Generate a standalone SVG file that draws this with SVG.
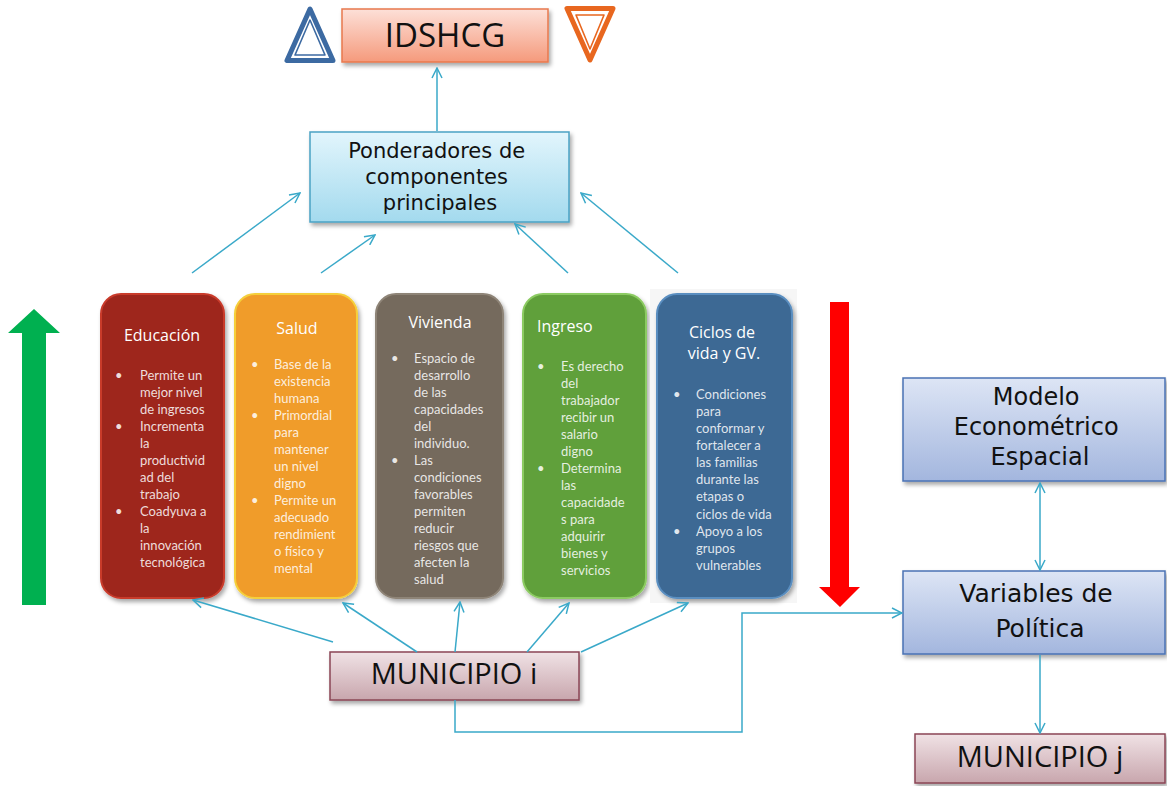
<svg xmlns="http://www.w3.org/2000/svg" width="1167" height="786" viewBox="0 0 1167 786">
  <defs>
    <style>
      .lbl { font-family: "Open Sans", "DejaVu Sans", sans-serif; fill: #111; text-anchor: middle; }
      .wide { font-family: "DejaVu Sans", "Open Sans", sans-serif; fill: #111; text-anchor: middle; }
      .ttl { font-family: "Open Sans", "DejaVu Sans", sans-serif; fill: #fff; font-size: 16px; }
      .bul { font-family: "Lato", "Open Sans", sans-serif; font-size: 13px; fill: #fff; fill-opacity: 0.85; }
      .conn { fill: none; stroke: #3aa9c9; stroke-width: 1.5; }
    </style>
    <linearGradient id="gSalmon" x1="0" y1="0" x2="0" y2="1">
      <stop offset="0" stop-color="#fde0d8"/>
      <stop offset="1" stop-color="#f59a7c"/>
    </linearGradient>
    <linearGradient id="gCyan" x1="0" y1="0" x2="0" y2="1">
      <stop offset="0" stop-color="#e2f5fc"/>
      <stop offset="1" stop-color="#a3daee"/>
    </linearGradient>
    <linearGradient id="gMauve" x1="0" y1="0" x2="0" y2="1">
      <stop offset="0" stop-color="#f0e2e5"/>
      <stop offset="1" stop-color="#c8a6ad"/>
    </linearGradient>
    <linearGradient id="gSteel" x1="0" y1="0" x2="0" y2="1">
      <stop offset="0" stop-color="#dde5f5"/>
      <stop offset="1" stop-color="#a3b6de"/>
    </linearGradient>
    <filter id="shadow" x="-10%" y="-10%" width="125%" height="130%">
      <feDropShadow dx="2" dy="3" stdDeviation="2" flood-color="#000" flood-opacity="0.35"/>
    </filter>
    <marker id="open" viewBox="0 0 12 12" refX="11" refY="6" markerWidth="12" markerHeight="12" markerUnits="userSpaceOnUse" orient="auto-start-reverse">
      <path d="M1,1 L11,6 L1,11" fill="none" stroke="#3aa9c9" stroke-width="1.5"/>
    </marker>
  </defs>

  <rect width="1167" height="786" fill="#fff"/>

  <!-- trend arrows -->
  <g id="arrow-up">
    <polygon points="34,309 60,333 46,333 46,605 22,605 22,333 8,333" fill="#00b050"/>
  </g>
  <g id="arrow-down">
    <polygon points="830,302 849,302 849,587 860,587 840,607 819,587 830,587" fill="#ff0000"/>
  </g>

  <!-- index header with signal triangles -->
  <g id="tri-up">
    <polygon points="310,9 287,60.5 333,60.5" fill="#fff" stroke="#3c6aa2" stroke-width="5" stroke-linejoin="round"/>
    <polygon points="310,20 295,55 325,55" fill="none" stroke="#3c6aa2" stroke-width="1.6" stroke-linejoin="round"/>
  </g>
  <g id="tri-down">
    <polygon points="567,8.5 613,8.5 590,60" fill="#fff" stroke="#e8671f" stroke-width="5" stroke-linejoin="round"/>
    <polygon points="576,15 604,15 590,49" fill="none" stroke="#e8671f" stroke-width="1.6" stroke-linejoin="round"/>
  </g>
  <g id="idshcg">
    <rect x="342" y="9" width="206" height="53" fill="url(#gSalmon)" stroke="#e8784e" stroke-width="1.5" filter="url(#shadow)"/>
    <text class="lbl" x="445" y="47" font-size="33">IDSHCG</text>
  </g>

  <g id="ponderadores">
    <rect x="310" y="132" width="259" height="90" fill="url(#gCyan)" stroke="#4aa2c4" stroke-width="1.5" filter="url(#shadow)"/>
    <text class="wide" font-size="21">
      <tspan x="440" y="158">Ponderadores de</tspan>
      <tspan x="440" y="184">componentes</tspan>
      <tspan x="440" y="210">principales</tspan>
    </text>
  </g>

  <!-- component cards -->
  <g id="educacion">
    <rect x="101" y="294" width="123" height="304" rx="20" fill="#9e281e" stroke="#c93a2c" stroke-width="2" filter="url(#shadow)"/>
    <text class="ttl" x="162" y="341" text-anchor="middle">Educación</text>
    <text class="bul">
      <tspan x="115" y="380">•</tspan><tspan x="140" y="380">Permite un</tspan>
      <tspan x="140" y="397">mejor nivel</tspan>
      <tspan x="140" y="414">de ingresos</tspan>
      <tspan x="115" y="431">•</tspan><tspan x="140" y="431">Incrementa</tspan>
      <tspan x="140" y="448">la</tspan>
      <tspan x="140" y="465">productivid</tspan>
      <tspan x="140" y="482">ad del</tspan>
      <tspan x="140" y="499">trabajo</tspan>
      <tspan x="115" y="516">•</tspan><tspan x="140" y="516">Coadyuva a</tspan>
      <tspan x="140" y="533">la</tspan>
      <tspan x="140" y="550">innovación</tspan>
      <tspan x="140" y="567">tecnológica</tspan>
    </text>
  </g>

  <g id="salud">
    <rect x="235" y="294" width="122" height="304" rx="20" fill="#f09c2c" stroke="#f5cf3a" stroke-width="2" filter="url(#shadow)"/>
    <text class="ttl" x="297" y="334" text-anchor="middle">Salud</text>
    <text class="bul">
      <tspan x="251" y="369">•</tspan><tspan x="274" y="369">Base de la</tspan>
      <tspan x="274" y="386">existencia</tspan>
      <tspan x="274" y="403">humana</tspan>
      <tspan x="251" y="420">•</tspan><tspan x="274" y="420">Primordial</tspan>
      <tspan x="274" y="437">para</tspan>
      <tspan x="274" y="454">mantener</tspan>
      <tspan x="274" y="471">un nivel</tspan>
      <tspan x="274" y="488">digno</tspan>
      <tspan x="251" y="505">•</tspan><tspan x="274" y="505">Permite un</tspan>
      <tspan x="274" y="522">adecuado</tspan>
      <tspan x="274" y="539">rendimient</tspan>
      <tspan x="274" y="556">o físico y</tspan>
      <tspan x="274" y="573">mental</tspan>
    </text>
  </g>

  <g id="vivienda">
    <rect x="376" y="294" width="127" height="304" rx="20" fill="#756a5d" stroke="#8e8477" stroke-width="2" filter="url(#shadow)"/>
    <text class="ttl" x="440" y="328" text-anchor="middle">Vivienda</text>
    <text class="bul">
      <tspan x="391" y="363">•</tspan><tspan x="414" y="363">Espacio de</tspan>
      <tspan x="414" y="380">desarrollo</tspan>
      <tspan x="414" y="397">de las</tspan>
      <tspan x="414" y="414">capacidades</tspan>
      <tspan x="414" y="431">del</tspan>
      <tspan x="414" y="448">individuo.</tspan>
      <tspan x="391" y="465">•</tspan><tspan x="414" y="465">Las</tspan>
      <tspan x="414" y="482">condiciones</tspan>
      <tspan x="414" y="499">favorables</tspan>
      <tspan x="414" y="516">permiten</tspan>
      <tspan x="414" y="533">reducir</tspan>
      <tspan x="414" y="550">riesgos que</tspan>
      <tspan x="414" y="567">afecten la</tspan>
      <tspan x="414" y="584">salud</tspan>
    </text>
  </g>

  <g id="ingreso">
    <rect x="523" y="294" width="123" height="304" rx="20" fill="#61a03b" stroke="#8ccb62" stroke-width="2" filter="url(#shadow)"/>
    <text class="ttl" x="537" y="332">Ingreso</text>
    <text class="bul">
      <tspan x="537" y="371">•</tspan><tspan x="561" y="371">Es derecho</tspan>
      <tspan x="561" y="388">del</tspan>
      <tspan x="561" y="405">trabajador</tspan>
      <tspan x="561" y="422">recibir un</tspan>
      <tspan x="561" y="439">salario</tspan>
      <tspan x="561" y="456">digno</tspan>
      <tspan x="537" y="473">•</tspan><tspan x="561" y="473">Determina</tspan>
      <tspan x="561" y="490">las</tspan>
      <tspan x="561" y="507">capacidade</tspan>
      <tspan x="561" y="524">s para</tspan>
      <tspan x="561" y="541">adquirir</tspan>
      <tspan x="561" y="558">bienes y</tspan>
      <tspan x="561" y="575">servicios</tspan>
    </text>
  </g>

  <g id="ciclos">
    <rect x="650" y="289" width="147" height="314" fill="#f6f6f6"/>
    <rect x="657" y="294" width="135" height="304" rx="20" fill="#3d6994" stroke="#5a8ec0" stroke-width="2" filter="url(#shadow)"/>
    <text class="ttl" font-size="17" text-anchor="middle">
      <tspan x="724" y="338">Ciclos de</tspan>
      <tspan x="724" y="359">vida y GV.</tspan>
    </text>
    <text class="bul">
      <tspan x="673" y="399">•</tspan><tspan x="696" y="399">Condiciones</tspan>
      <tspan x="696" y="416">para</tspan>
      <tspan x="696" y="433">conformar y</tspan>
      <tspan x="696" y="450">fortalecer a</tspan>
      <tspan x="696" y="467">las familias</tspan>
      <tspan x="696" y="484">durante las</tspan>
      <tspan x="696" y="501">etapas o</tspan>
      <tspan x="696" y="519">ciclos de vida</tspan>
      <tspan x="673" y="536">•</tspan><tspan x="696" y="536">Apoyo a los</tspan>
      <tspan x="696" y="553">grupos</tspan>
      <tspan x="696" y="570">vulnerables</tspan>
    </text>
  </g>

  <g id="municipio-i">
    <rect x="330" y="652" width="249" height="48" fill="url(#gMauve)" stroke="#8a4656" stroke-width="1.5" filter="url(#shadow)"/>
    <text class="lbl" x="454" y="684" font-size="29">MUNICIPIO i</text>
  </g>

  <g id="modelo">
    <rect x="903" y="378" width="262" height="103" fill="url(#gSteel)" stroke="#4a72b4" stroke-width="1.5" filter="url(#shadow)"/>
    <text class="wide" font-size="24">
      <tspan x="1040" y="405">Modelo</tspan>
      <tspan x="1040" y="435">Econométrico</tspan>
      <tspan x="1040" y="465">Espacial</tspan>
    </text>
  </g>

  <g id="variables">
    <rect x="903" y="571" width="262" height="83" fill="url(#gSteel)" stroke="#4a72b4" stroke-width="1.5" filter="url(#shadow)"/>
    <text class="wide" font-size="25">
      <tspan x="1040" y="602">Variables de</tspan>
      <tspan x="1040" y="637">Política</tspan>
    </text>
  </g>

  <g id="municipio-j">
    <rect x="915" y="734" width="250" height="49" fill="url(#gMauve)" stroke="#8a4656" stroke-width="1.5" filter="url(#shadow)"/>
    <text class="lbl" x="1040" y="767" font-size="29">MUNICIPIO j</text>
  </g>

  <!-- connectors -->
  <g id="connectors">
    <line class="conn" x1="437" y1="131" x2="437" y2="68" marker-end="url(#open)"/>
    <line class="conn" x1="192" y1="273" x2="300" y2="193" marker-end="url(#open)"/>
    <line class="conn" x1="321" y1="273" x2="375" y2="235" marker-end="url(#open)"/>
    <line class="conn" x1="568" y1="273" x2="515" y2="224" marker-end="url(#open)"/>
    <line class="conn" x1="678" y1="273" x2="581" y2="193" marker-end="url(#open)"/>
    <line class="conn" x1="333" y1="642" x2="193" y2="600" marker-end="url(#open)"/>
    <line class="conn" x1="417" y1="652" x2="343" y2="603" marker-end="url(#open)"/>
    <line class="conn" x1="455" y1="652" x2="460" y2="602" marker-end="url(#open)"/>
    <line class="conn" x1="527" y1="652" x2="569" y2="603" marker-end="url(#open)"/>
    <line class="conn" x1="581" y1="652" x2="688" y2="603" marker-end="url(#open)"/>
    <polyline class="conn" points="455,700 455,732 742,732 742,613 902,613" marker-end="url(#open)"/>
    <line class="conn" x1="1040" y1="483" x2="1040" y2="570" marker-start="url(#open)" marker-end="url(#open)"/>
    <line class="conn" x1="1040" y1="655" x2="1040" y2="733" marker-end="url(#open)"/>
  </g>
</svg>
